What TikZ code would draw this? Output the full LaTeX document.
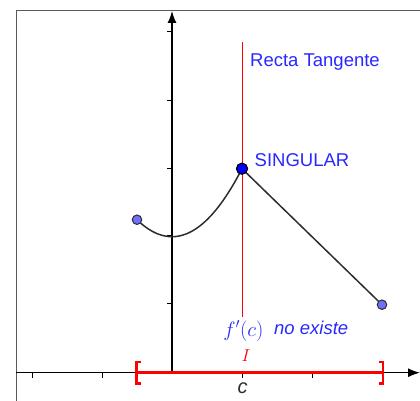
\documentclass[tikz,border=0pt]{standalone}
\usepackage{fontspec}
\setsansfont{Liberation Sans}
\usetikzlibrary{arrows.meta}
\definecolor{txtblue}{RGB}{40,40,255}
\definecolor{ptlight}{RGB}{110,110,255}
\definecolor{framegray}{RGB}{90,90,90}
\definecolor{curvegray}{RGB}{45,45,45}
\tikzset{
  lbl/.style={font=\sffamily\fontsize{18.5}{20}\selectfont, text=txtblue, inner sep=0pt},
  axisline/.style={line width=1.3pt, black},
  tick/.style={line width=1pt, black},
  redline/.style={line width=1.5pt, red},
  curve/.style={line width=1.5pt, curvegray},
  endpt/.style={circle, fill=ptlight, draw=curvegray, line width=1pt, minimum size=9.5pt, inner sep=0pt},
  singpt/.style={circle, fill=blue, draw=black, line width=1pt, minimum size=11pt, inner sep=0pt}
}
\begin{document}
\begin{tikzpicture}[x=1pt,y=-1pt]
\useasboundingbox (0,0) rectangle (420,401);
% frame
\draw[framegray, line width=1pt] (16,401) -- (16,10.5) -- (420,10.5);
% coordinates
\coordinate (O) at (172,372.7);
\coordinate (xl) at (16,372.7);
\coordinate (xr) at (420,372.7);
\coordinate (yt) at (172,11);
% ticks
\foreach \x in {32,102,242.5,312} \draw[tick] (\x,372.7) -- (\x,377.5);
\foreach \y in {32,101,168.3,235.5,303.3} \draw[tick] (172,\y) -- (167,\y);
% axes
\draw[axisline, -{Latex[length=12pt,width=9pt]}] (xl) -- (xr);
\draw[axisline, -{Latex[length=12pt,width=9pt]}] (O) -- (yt);
% tangent line
\coordinate (tt) at (242.5,42.5);
\coordinate (tb) at (242.5,317);
\draw[redline] (tt) -- (tb);
% function
\begin{scope}[shift={(172,372.7)}, x=70pt, y=68pt]
\draw[curve, domain=-0.5:1, samples=60] plot (\x, {2+\x*\x});
\node[singpt] (S) at (1,3) {};
\node[endpt] (A) at (-0.5,2.25) {};
\node[endpt] (B) at (3,1) {};
\end{scope}
\draw[curve] (S.center) -- (B);
\node[singpt] at (S) {};
% interval
\coordinate (ia) at (136.5,372.7);
\coordinate (ib) at (383,372.7);
\draw[red, line width=2.6pt] (ia) -- (ib);
\draw[red, line width=2.4pt] (141,362) -- (136.5,362) -- (136.5,383.5) -- (141,383.5);
\draw[red, line width=2.4pt] (378.5,362) -- (383,362) -- (383,383.5) -- (378.5,383.5);
% labels
\node[lbl, anchor=base west] (rt) at (250,66.5) {Recta Tangente};
\node[lbl, anchor=base west] (sg) at (254.5,166) {SINGULAR};
\node[lbl, anchor=base west] (ne) at (274,334) {\itshape no existe};
\node[text=txtblue, inner sep=0pt, anchor=base, font=\fontsize{22.5}{24}\selectfont] (fc) at (243.5,336) {$f'(c)$};
\node[text=red, inner sep=0pt, anchor=base, font=\fontsize{19}{21}\selectfont] (I) at (246,361) {$I$};
\node[text=curvegray, inner sep=0pt, anchor=base, font=\sffamily\itshape\fontsize{20}{22}\selectfont] (c) at (242.5,393) {c};
\end{tikzpicture}
\end{document}
